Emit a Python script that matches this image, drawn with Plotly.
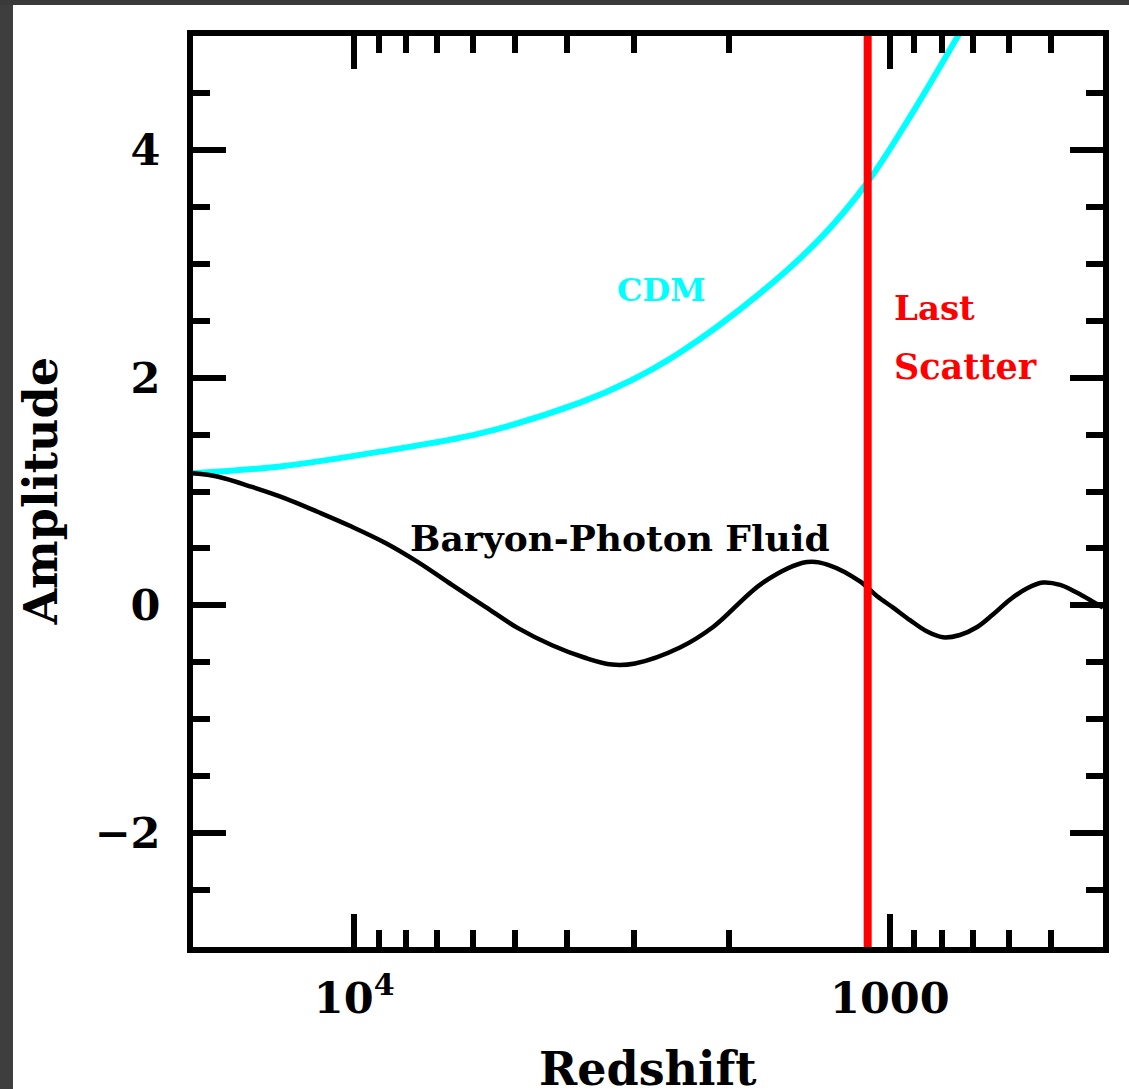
import numpy as np
import plotly.graph_objects as go

# ---- data ----
cdm_z = [20000, 13760, 8953, 5825, 3788, 3056, 2465, 1748, 1350, 1103, 917, 740]
cdm_amp = [1.16, 1.22, 1.35, 1.51, 1.78, 1.97, 2.22, 2.74, 3.22, 3.71, 4.29, 5.03]

bp_z = [20000, 17950, 15520, 13460, 11685, 10095, 8760, 7602, 6569, 5700, 4946,
        4273, 3709, 3302, 2991, 2465, 2138, 1725, 1428, 1293, 1137,
        1056, 986, 917, 852, 796, 740, 687, 642, 597, 554, 518, 481, 447, 417, 400]
bp_amp = [1.16, 1.13, 1.04, 0.94, 0.82, 0.69, 0.55, 0.38, 0.18, -0.01, -0.20,
          -0.35, -0.46, -0.52, -0.51, -0.37, -0.19, 0.20, 0.38, 0.35, 0.21,
          0.08, -0.02, -0.13, -0.23, -0.28, -0.26, -0.19, -0.08, 0.05, 0.15, 0.20, 0.18, 0.11, 0.03, -0.02]

last_scatter_z = 1100

x_major = [10000, 1000]
x_major_text = ["10<sup>4</sup>", "1000"]
x_minor = [9000, 8000, 7000, 6000, 5000, 4000, 3000, 2000, 900, 800, 700, 600, 500, 400]
y_major = [-2, 0, 2, 4]
y_major_text = [u"\u22122", "0", "2", "4"]
y_minor = [-2.5, -1.5, -1, -0.5, 0.5, 1, 1.5, 2.5, 3, 3.5, 4.5]

FONT = "DejaVu Serif"

fig = go.Figure()
fig.add_trace(go.Scatter(x=cdm_z, y=cdm_amp, mode="lines",
                         line=dict(color="#00FFFF", width=6, shape="spline", smoothing=1.0),
                         showlegend=False))
fig.add_trace(go.Scatter(x=bp_z, y=bp_amp, mode="lines",
                         line=dict(color="black", width=4.5, shape="spline", smoothing=1.0),
                         showlegend=False))
fig.add_trace(go.Scatter(x=[last_scatter_z, last_scatter_z], y=[-3, 5], mode="lines",
                         line=dict(color="#FF0000", width=8),
                         showlegend=False))

axis_common = dict(showgrid=False, zeroline=False, showline=True, linecolor="black",
                   linewidth=6, mirror="allticks", ticks="inside", tickcolor="black",
                   tickwidth=6, ticklen=33,
                   tickfont=dict(family=FONT, size=43, color="black", weight="bold"))

fig.update_xaxes(type="log", range=[np.log10(20000), np.log10(400)],
                 tickmode="array", tickvals=x_major, ticktext=x_major_text,
                 ticklabelstandoff=8,
                 minor=dict(tickmode="array", tickvals=x_minor, ticks="inside",
                            ticklen=17, tickwidth=6, tickcolor="black"),
                 **axis_common)
fig.update_yaxes(range=[-3, 5], tickmode="array", tickvals=y_major,
                 ticktext=y_major_text, ticklabelstandoff=18,
                 minor=dict(tickmode="array", tickvals=y_minor, ticks="inside",
                            ticklen=17, tickwidth=6, tickcolor="black"),
                 **axis_common)

annots = [
    dict(text="CDM", x=np.log10(2674), y=2.77, color="#00FFFF", xanchor="center", size=32),
    dict(text="Last", x=np.log10(990), y=2.61, color="#FF0000", xanchor="left", size=34),
    dict(text="Scatter", x=np.log10(990), y=2.10, color="#FF0000", xanchor="left", size=35),
    dict(text="Baryon-Photon Fluid", x=np.log10(3190), y=0.59, color="black", xanchor="center", size=36),
]
for a in annots:
    fig.add_annotation(x=a["x"], y=a["y"], xref="x", yref="y", text=a["text"],
                       showarrow=False, xanchor=a["xanchor"], yanchor="middle",
                       font=dict(family=FONT, size=a["size"], color=a["color"], weight="bold"))

fig.add_annotation(x=0.5, y=-0.134, xref="paper", yref="paper", text="Redshift",
                   showarrow=False, xanchor="center", yanchor="middle",
                   font=dict(family=FONT, size=46, color="black", weight="bold"))
fig.add_annotation(x=-0.168, y=0.5, xref="paper", yref="paper", text="Amplitude",
                   showarrow=False, textangle=-90, xanchor="center", yanchor="middle",
                   font=dict(family=FONT, size=46, color="black", weight="bold"))

# dark screenshot frame strips
fig.add_shape(type="rect", xref="paper", yref="paper",
              x0=-193/910, x1=(13-193)/910, y0=-142/911, y1=(947+5)/911 + 0.01,
              fillcolor="#3e3e3e", line=dict(width=0), layer="below")
fig.add_shape(type="rect", xref="paper", yref="paper",
              x0=-193/910, x1=(1129-193)/910, y0=(947-5)/911, y1=947/911 + 0.01,
              fillcolor="#3a3a3a", line=dict(width=0), layer="below")

fig.update_layout(width=1129, height=1089,
                  margin=dict(l=193, r=26, t=36, b=142),
                  paper_bgcolor="white", plot_bgcolor="white",
                  font=dict(family=FONT, color="black"))

fig.write_html("out.html")
